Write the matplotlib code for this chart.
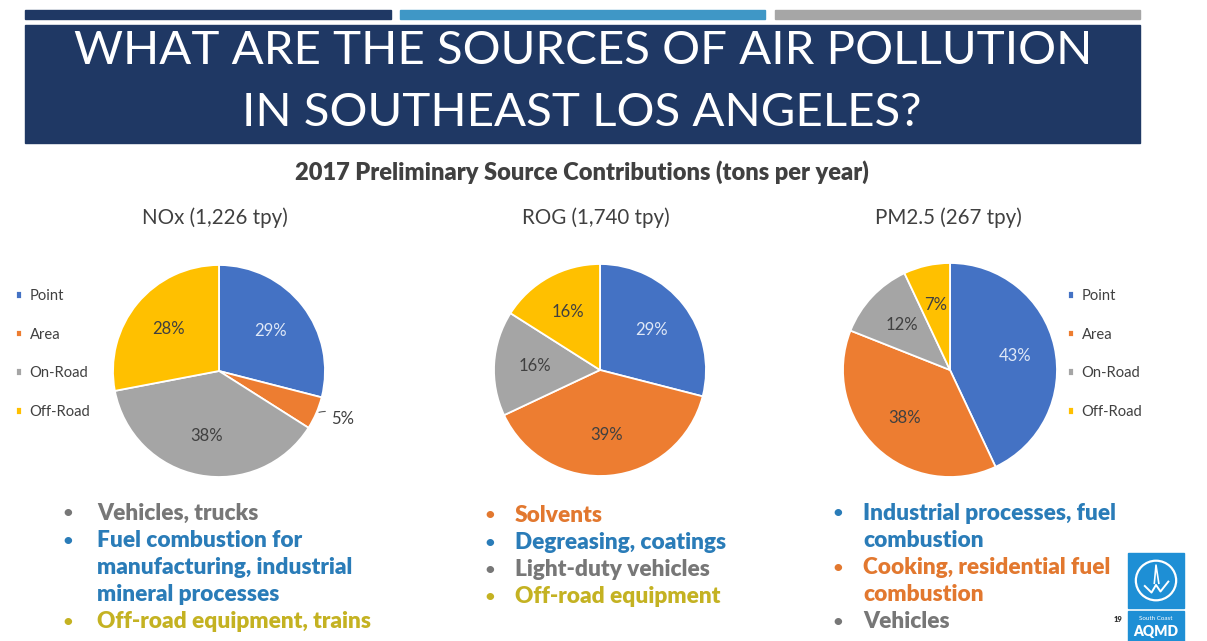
import matplotlib
matplotlib.use("Agg")
import matplotlib.pyplot as plt
from matplotlib.patches import Rectangle, Circle
import numpy as np

# ---------------- data ----------------
categories = ["Point", "Area", "On-Road", "Off-Road"]
nox_values = [29, 5, 38, 28]
rog_values = [29, 39, 16, 16]
pm25_values = [43, 38, 12, 7]
pie_titles = ["NOx (1,226 tpy)", "ROG (1,740 tpy)", "PM2.5 (267 tpy)"]
title_lines = ["WHAT ARE THE SOURCES OF AIR POLLUTION", "IN SOUTHEAST LOS ANGELES?"]
subtitle = "2017 Preliminary Source Contributions (tons per year)"
nox_notes = [("Vehicles, trucks", "gray"),
             ("Fuel combustion for\nmanufacturing, industrial\nmineral processes", "blue"),
             ("Off-road equipment, trains", "olive")]
rog_notes = [("Solvents", "orange"),
             ("Degreasing, coatings", "blue"),
             ("Light-duty vehicles", "gray"),
             ("Off-road equipment", "olive")]
pm25_notes = [("Industrial processes, fuel\ncombustion", "blue"),
              ("Cooking, residential fuel\ncombustion", "orange"),
              ("Vehicles", "gray")]
page_number = "19"

# ---------------- styling ----------------
W, H = 1207, 641
slice_colors = ["#4472C4", "#ED7D31", "#A5A5A5", "#FFC000"]
note_colors = {"gray": "#777777", "blue": "#2a7cb8", "olive": "#c4b222", "orange": "#e2782f"}
body_font = ["Lato", "DejaVu Sans"]
title_font = ["Lato", "DejaVu Sans"]
dark = "#404040"

fig = plt.figure(figsize=(W / 100, H / 100), dpi=100)
fig.patch.set_facecolor("white")


def fx(x):
    return x / W


def fy(y):
    return 1 - y / H


renderer = fig.canvas.get_renderer()


def fit_width(t, target):
    w = t.get_window_extent(renderer).width
    t.set_fontsize(t.get_fontsize() * target / w)
    return t.get_fontsize()


# top colored bars
for x0, x1, c in [(25, 391, "#1F3864"), (400, 765, "#3F97C6"), (775, 1140, "#A6A6A6")]:
    fig.patches.append(Rectangle((fx(x0), fy(19)), fx(x1) - fx(x0), fy(10) - fy(19),
                                 transform=fig.transFigure, color=c, zorder=1))
# title box
fig.patches.append(Rectangle((fx(25), fy(143)), fx(1140) - fx(25), fy(25) - fy(143),
                             transform=fig.transFigure, color="#1F3864", zorder=1))
t1 = fig.text(fx(583), fy(51), title_lines[0], color="white", ha="center", va="center",
              family=title_font, fontsize=36, zorder=2)
fit_width(t1, 1017)
t2 = fig.text(fx(582), fy(113), title_lines[1], color="white", ha="center", va="center",
              family=title_font, fontsize=t1.get_fontsize(), zorder=2)

st = fig.text(fx(582), fy(172), subtitle, color=dark, ha="center", va="center",
              family=body_font, fontweight="heavy", fontsize=13)
fit_width(st, 573)

# ---------------- pies ----------------
pie_specs = [
    (nox_values, 219, 371, 106, pie_titles[0], 215),
    (rog_values, 600, 370, 106, pie_titles[1], 596),
    (pm25_values, 950, 370, 107, pie_titles[2], 948),
]
wedge_handles = None
for vals, cx, cy, r, ttl, tx in pie_specs:
    ax = fig.add_axes([fx(cx - r), fy(cy + r), 2 * r / W, 2 * r / H])
    wedges, texts, autotexts = ax.pie(
        vals, colors=slice_colors, startangle=90, counterclock=False,
        autopct=lambda p: f"{p:.0f}%" if p >= 6 else "", pctdistance=0.62,
        wedgeprops=dict(edgecolor="white", linewidth=1.3),
        textprops=dict(family=body_font, fontsize=12, color=dark))
    autotexts[0].set_color("#dfe8f7")
    for w, v in zip(wedges, vals):
        if v < 6:
            ang = np.deg2rad((w.theta1 + w.theta2) / 2)
            ax.annotate(f"{v}%", xy=(1.0 * np.cos(ang), 1.0 * np.sin(ang)),
                        xytext=(1.15 * np.cos(ang), 1.13 * np.sin(ang)),
                        ha="left", va="center", family=body_font, fontsize=12, color=dark,
                        arrowprops=dict(arrowstyle="-", color="#595959", lw=0.8,
                                        connectionstyle="arc3,rad=0.3"),
                        annotation_clip=False)
    ax.set_xlim(-1, 1)
    ax.set_ylim(-1, 1)
    ax.set_aspect("equal")
    ax.axis("off")
    wedge_handles = wedges
    fig.text(fx(tx), fy(218), ttl, color=dark, ha="center", va="center",
             family=body_font, fontsize=14.8)

# legends
for lx in (16, 1068):
    fig.legend(wedge_handles, categories, loc="upper left",
               bbox_to_anchor=(fx(lx), fy(289)), frameon=False,
               prop=dict(family=body_font, size=10.6), labelcolor=dark,
               handlelength=0.42, handleheight=0.42, handletextpad=0.5,
               labelspacing=1.68, borderpad=0, borderaxespad=0)

# ---------------- bullet notes ----------------
probe = fig.text(0, 0, nox_notes[0][0], family=body_font, fontweight="heavy", fontsize=14)
note_size = fit_width(probe, 161)
probe.remove()

line_h = 27.2
for notes, bx, tx, y0 in [(nox_notes, 68, 97, 513),
                          (rog_notes, 490, 515, 515),
                          (pm25_notes, 838, 863, 513)]:
    y = y0
    for text, ck in notes:
        c = note_colors[ck]
        fig.text(fx(bx), fy(y), "•", color=c, ha="center", va="center",
                 family=body_font, fontsize=11, fontweight="heavy")
        for line in text.split("\n"):
            fig.text(fx(tx), fy(y), line, color=c, ha="left", va="center",
                     family=body_font, fontsize=note_size, fontweight="heavy")
            y += line_h

# ---------------- logo ----------------
fig.patches.append(Rectangle((fx(1128), fy(608)), fx(1184) - fx(1128), fy(553) - fy(608),
                             transform=fig.transFigure, color="#1E8FD5", zorder=3))
fig.patches.append(Rectangle((fx(1128), fy(641)), fx(1184) - fx(1128), fy(611) - fy(641),
                             transform=fig.transFigure, color="#1E8FD5", zorder=3))
logo_ax = fig.add_axes([fx(1128), fy(608), 56 / W, 55 / H])
logo_ax.set_zorder(6)
logo_ax.patch.set_alpha(0)
logo_ax.set_xlim(0, 1)
logo_ax.set_ylim(0, 1)
logo_ax.axis("off")
logo_ax.add_patch(Circle((0.5, 0.5), 0.36, fill=False, ec="white", lw=1.6))
logo_ax.plot([0.3, 0.42, 0.5, 0.58, 0.72], [0.4, 0.28, 0.42, 0.3, 0.48], color="white", lw=1.4)
logo_ax.plot([0.47, 0.5, 0.55], [0.45, 0.78, 0.45], color="white", lw=1.2)
fig.text(fx(1156), fy(619), "South Coast", color="white", ha="center", va="center",
         family=body_font, fontsize=4.5, zorder=7)
fig.text(fx(1156), fy(632), "AQMD", color="white", ha="center", va="center",
         family=body_font, fontsize=10, fontweight="heavy", zorder=7)
fig.text(fx(1118), fy(620), page_number, color="#333333", ha="center", va="center",
         family=body_font, fontsize=5.5, fontweight="heavy")

fig.savefig("out.png", dpi=100, facecolor="white")
